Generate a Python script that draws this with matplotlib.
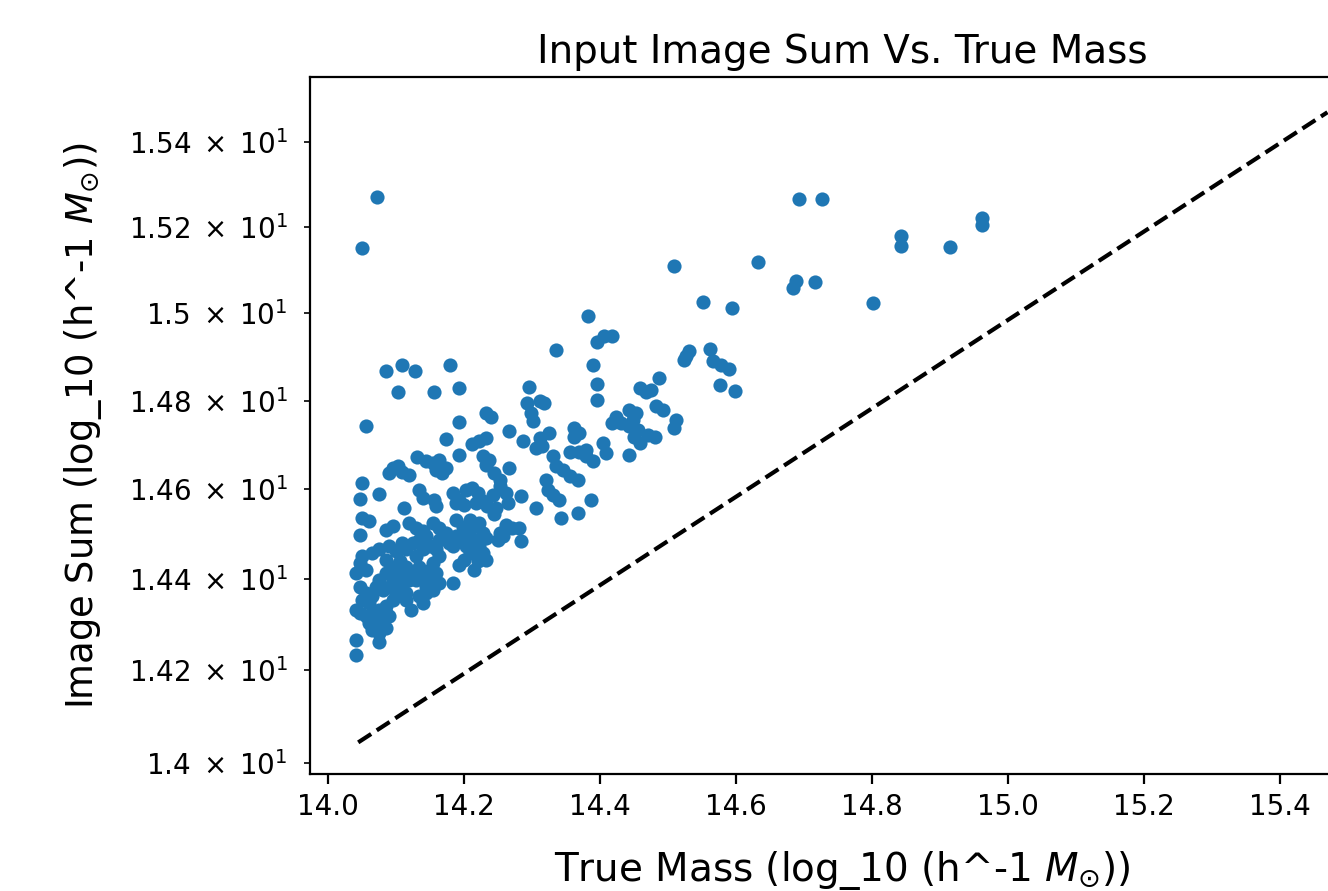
import matplotlib
matplotlib.use("Agg")
import matplotlib.pyplot as plt
from matplotlib.ticker import FuncFormatter
import numpy as np

true_mass = [
    14.072, 14.050, 14.693, 14.726, 14.962, 14.962, 14.843, 14.843, 14.914, 14.509,
    14.632, 14.683, 14.688, 14.716, 14.801, 14.551, 14.594, 14.382, 14.396, 14.406,
    14.418, 14.390, 14.396, 14.396, 14.527, 14.531, 14.524, 14.561, 14.566, 14.578,
    14.590, 14.576, 14.599, 14.486, 14.458, 14.468, 14.475, 14.482, 14.492, 14.512,
    14.509, 14.423, 14.431, 14.418, 14.443, 14.453, 14.448, 14.443, 14.455, 14.450,
    14.458, 14.470, 14.480, 14.404, 14.409, 14.379, 14.369, 14.443,
    14.102, 14.155, 14.193, 14.296, 14.055, 14.193, 14.232, 14.240, 14.293, 14.311,
    14.318, 14.298, 14.301, 14.173, 14.266, 14.286, 14.311, 14.325, 14.306, 14.315,
    14.362, 14.362, 14.212, 14.222, 14.232, 14.193, 14.131, 14.095, 14.102, 14.090,
    14.109, 14.119, 14.144, 14.154, 14.163, 14.159, 14.168, 14.173, 14.227, 14.232,
    14.237, 14.244, 14.252, 14.266, 14.330, 14.335, 14.345, 14.355, 14.355, 14.369,
    14.379, 14.389, 14.367, 14.320, 14.323, 14.330, 14.340, 14.387, 14.306, 14.343,
    14.367, 14.050, 14.075, 14.046, 14.134, 14.139, 14.112, 14.156, 14.159, 14.183,
    14.188, 14.203, 14.212, 14.220, 14.193, 14.200, 14.217, 14.227, 14.234, 14.247,
    14.242, 14.252, 14.262, 14.264, 14.284, 14.244, 14.050, 14.060, 14.046, 14.085,
    14.095, 14.119, 14.129, 14.139, 14.154, 14.163, 14.173, 14.188, 14.198, 14.208,
    14.212, 14.222, 14.227, 14.232, 14.262, 14.271, 14.281, 14.252, 14.257, 14.249,
    14.284, 14.050, 14.065, 14.075, 14.041, 14.055, 14.046, 14.090, 14.100, 14.109,
    14.114, 14.085, 14.095, 14.105, 14.114, 14.105, 14.124, 14.134, 14.144, 14.149,
    14.139, 14.159, 14.163, 14.173, 14.178, 14.188, 14.183, 14.198, 14.203, 14.208,
    14.210, 14.217, 14.222, 14.227, 14.232, 14.220, 14.208, 14.200, 14.193, 14.215,
    14.163, 14.154, 14.149, 14.129, 14.134, 14.124, 14.119, 14.129, 14.139, 14.144,
    14.149, 14.159, 14.163, 14.183, 14.075, 14.085, 14.095, 14.090, 14.080, 14.070,
    14.046, 14.055, 14.065, 14.060, 14.050, 14.041, 14.046, 14.055, 14.065, 14.075,
    14.085, 14.095, 14.100, 14.109, 14.105, 14.114, 14.114, 14.122, 14.134, 14.139,
    14.144, 14.154, 14.060, 14.070, 14.080, 14.085, 14.090, 14.065, 14.075, 14.085,
    14.075, 14.041, 14.041, 14.085, 14.109, 14.127, 14.179, 14.335,
]

image_sum = [
    15.271, 15.150, 15.265, 15.265, 15.222, 15.205, 15.178, 15.155, 15.153, 15.110,
    15.118, 15.058, 15.074, 15.072, 15.024, 15.027, 15.013, 14.993, 14.933, 14.947,
    14.948, 14.882, 14.839, 14.802, 14.901, 14.913, 14.894, 14.918, 14.890, 14.882,
    14.872, 14.836, 14.823, 14.852, 14.829, 14.821, 14.825, 14.787, 14.780, 14.757,
    14.738, 14.764, 14.750, 14.750, 14.780, 14.772, 14.757, 14.742, 14.734, 14.719,
    14.704, 14.723, 14.719, 14.704, 14.682, 14.689, 14.727, 14.678,
    14.821, 14.821, 14.829, 14.832, 14.743, 14.751, 14.772, 14.763, 14.795, 14.800,
    14.795, 14.772, 14.753, 14.713, 14.731, 14.708, 14.716, 14.728, 14.693, 14.697,
    14.738, 14.719, 14.701, 14.708, 14.716, 14.678, 14.673, 14.648, 14.652, 14.637,
    14.640, 14.633, 14.663, 14.659, 14.667, 14.644, 14.637, 14.648, 14.674, 14.655,
    14.667, 14.637, 14.622, 14.648, 14.674, 14.652, 14.644, 14.629, 14.685, 14.685,
    14.674, 14.663, 14.622, 14.622, 14.599, 14.588, 14.577, 14.577, 14.558, 14.536,
    14.547, 14.614, 14.590, 14.578, 14.599, 14.581, 14.558, 14.577, 14.562, 14.592,
    14.570, 14.599, 14.603, 14.592, 14.577, 14.566, 14.570, 14.573, 14.562, 14.558,
    14.588, 14.607, 14.592, 14.570, 14.585, 14.544, 14.536, 14.529, 14.499, 14.510,
    14.518, 14.525, 14.514, 14.507, 14.525, 14.514, 14.503, 14.532, 14.517, 14.532,
    14.517, 14.525, 14.503, 14.492, 14.521, 14.514, 14.514, 14.503, 14.495, 14.488,
    14.484, 14.451, 14.458, 14.466, 14.414, 14.421, 14.436, 14.473, 14.462, 14.481,
    14.466, 14.443, 14.428, 14.440, 14.428, 14.414, 14.481, 14.488, 14.495, 14.473,
    14.466, 14.466, 14.488, 14.495, 14.481, 14.495, 14.473, 14.488, 14.473, 14.495,
    14.477, 14.488, 14.473, 14.458, 14.443, 14.440, 14.458, 14.443, 14.432, 14.421,
    14.451, 14.436, 14.421, 14.451, 14.428, 14.414, 14.399, 14.399, 14.406, 14.384,
    14.399, 14.414, 14.391, 14.391, 14.399, 14.414, 14.399, 14.384, 14.377, 14.384,
    14.384, 14.370, 14.362, 14.347, 14.355, 14.333, 14.326, 14.318, 14.326, 14.333,
    14.340, 14.355, 14.370, 14.384, 14.399, 14.370, 14.355, 14.333, 14.362, 14.347,
    14.370, 14.377, 14.304, 14.304, 14.311, 14.326, 14.318, 14.289, 14.282, 14.293,
    14.263, 14.267, 14.234, 14.867, 14.882, 14.867, 14.882, 14.916,
]

line_range = [14.044, 15.47]


def sci_label(v, pos):
    mant = "%g" % round(v / 10.0, 4)
    return r"$\mathdefault{%s\;\times\;10^{1}}$" % mant


fig = plt.figure(figsize=(6.64, 4.455), dpi=200)
ax = fig.add_axes([0.2334, 0.1313, 0.802, 0.7823])
ax.scatter(true_mass, image_sum, s=26, color="#1f77b4", linewidths=0)
ax.plot(line_range, line_range, "k--", linewidth=1.5)
ax.set_yscale("log")
ax.set_xlim(13.973, 15.54)
ax.set_ylim(13.976, 15.554)
ax.yaxis.set_minor_formatter(FuncFormatter(sci_label))
ax.tick_params(axis="y", which="both", pad=6)
ax.set_title("Input Image Sum Vs. True Mass", fontsize=14, pad=5)
ax.set_xlabel(r"True Mass (log_10 (h^-1 $M_{\odot}$))", fontsize=14, labelpad=10)
ax.set_ylabel(r"Image Sum (log_10 (h^-1 $M_{\odot}$))", fontsize=13.3, labelpad=9)
fig.savefig("out.png", dpi=200)
